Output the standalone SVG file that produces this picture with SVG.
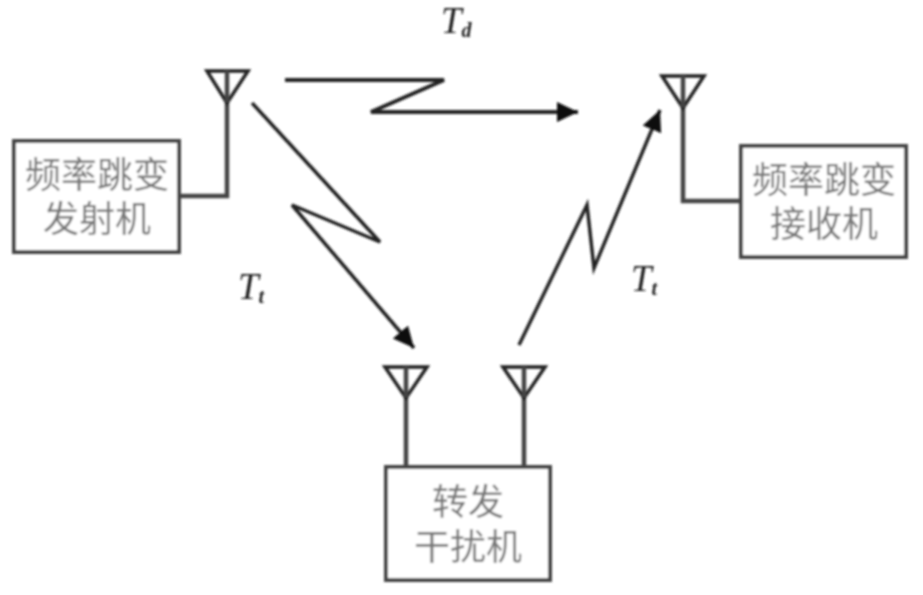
<svg xmlns="http://www.w3.org/2000/svg" width="923" height="595" viewBox="0 0 923 595">
<style>
.box{fill:#fff;stroke:#444;stroke-width:4}
.ant{fill:none;stroke:#222;stroke-width:3.5}
.stem{fill:none;stroke:#444;stroke-width:4.5}
.bolt{fill:none;stroke:#222;stroke-width:4;stroke-linejoin:miter}
.thin{stroke-width:3.5}
.cjk{font-family:"Liberation Serif","Noto Sans CJK SC",sans-serif;font-size:36px;fill:#777;text-anchor:middle}
.t{font-family:"Liberation Serif",serif;font-style:italic;font-size:37px;fill:#222}
.s{font-size:20px;font-weight:bold}
</style>
<defs>
<marker id="arrow" markerUnits="userSpaceOnUse" markerWidth="26" markerHeight="22" refX="21" refY="10" orient="auto"><path d="M0 0L21 10L0 20Z" fill="#111"/></marker>
<filter id="soft" x="-5%" y="-5%" width="110%" height="110%"><feGaussianBlur stdDeviation="0.8"/></filter>
</defs>
<rect width="923" height="595" fill="#fff"/>
<g filter="url(#soft)">
<g id="connectors">
<path class="stem" d="M227 102V196H179"/>
<path class="stem" d="M683 107V201H740"/>
<path class="stem" d="M406 397V467"/>
<path class="stem" d="M524 397V467"/>
<path class="bolt" d="M285 80H444L371 112H578" marker-end="url(#arrow)"/>
<path class="bolt thin" d="M252 103L380 242L292 205L414 348" marker-end="url(#arrow)"/>
<path class="bolt thin" d="M519 345L587 205L594 268L660 110" marker-end="url(#arrow)"/>
</g>
<g id="transmitter">
<rect class="box" x="14" y="141" width="165" height="111"/>
<text class="cjk" x="97" y="188">频率跳变</text>
<text class="cjk" x="97" y="232">发射机</text>
</g>
<g id="receiver">
<rect class="box" x="741" y="146" width="165" height="111"/>
<text class="cjk" x="824" y="193">频率跳变</text>
<text class="cjk" x="824" y="237">接收机</text>
</g>
<g id="jammer">
<rect class="box" x="386" y="467" width="164" height="113"/>
<text class="cjk" x="468" y="515">转发</text>
<text class="cjk" x="468" y="560">干扰机</text>
</g>
<g id="antenna-tx"><path class="ant" d="M207 71H248L227 103Z"/><path class="stem" d="M227 71V102"/></g>
<g id="antenna-rx"><path class="ant" d="M662 76H704L683 108Z"/><path class="stem" d="M683 76V107"/></g>
<g id="antenna-jam-in"><path class="ant" d="M385 367H427L406 398Z"/><path class="stem" d="M406 367V397"/></g>
<g id="antenna-jam-out"><path class="ant" d="M503 367H545L524 398Z"/><path class="stem" d="M524 367V397"/></g>
<g id="labels">
<text class="t" x="441" y="33">T<tspan class="s" dy="4">d</tspan></text>
<text class="t" x="238" y="299">T<tspan class="s" dy="4">t</tspan></text>
<text class="t" x="631" y="291">T<tspan class="s" dy="4">t</tspan></text>
</g>
</g>
</svg>
